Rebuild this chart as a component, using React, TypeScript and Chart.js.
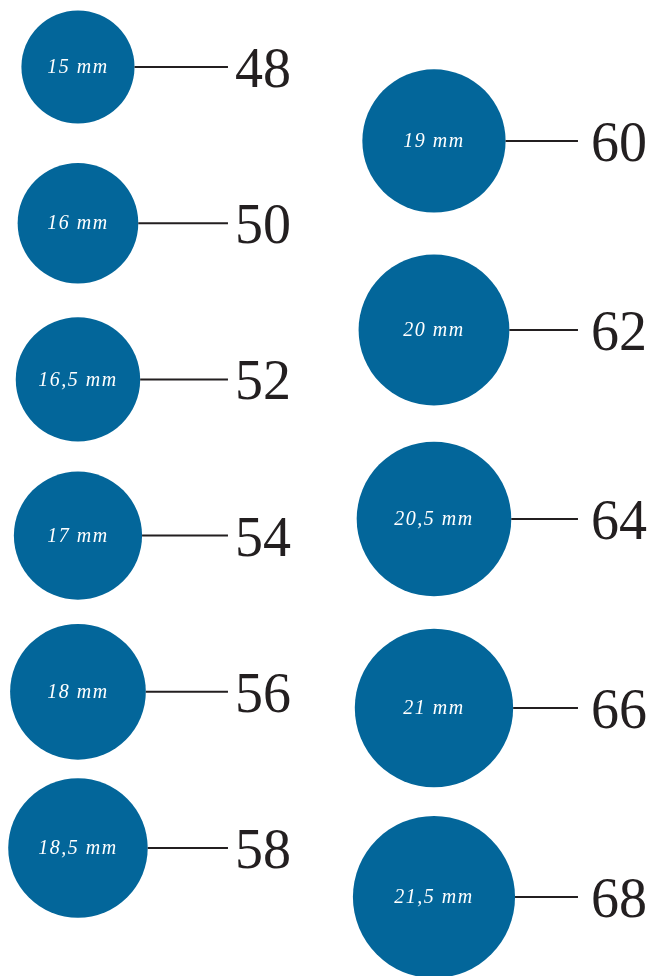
import React, { useEffect, useRef } from "react";
import { Chart, registerables } from "chart.js";

Chart.register(...registerables);

// Ring size chart data
const leftDiameters = [15, 16, 16.5, 17, 18, 18.5];
const leftSizes = [48, 50, 52, 54, 56, 58];
const rightDiameters = [19, 20, 20.5, 21, 21.5];
const rightSizes = [60, 62, 64, 66, 68];

const CIRCLE_COLOR = "#03669a";
const TEXT_COLOR = "#231f20";
const PX_PER_MM = 3.77;

const fmt = (d: number) => String(d).replace(".", ",") + " mm";

const leaderPlugin = {
  id: "leaders",
  afterDatasetsDraw(chart: any) {
    const ctx = chart.ctx;
    chart.data.datasets.forEach((ds: any, di: number) => {
      const meta = chart.getDatasetMeta(di);
      const reach = ds.reach as number;
      const gap = ds.gap as number;
      meta.data.forEach((el: any, i: number) => {
        const raw = ds.data[i];
        const { x, y } = el.getProps(["x", "y"], true);
        const r = raw.r;
        const end = x + reach;
        ctx.save();
        ctx.strokeStyle = TEXT_COLOR;
        ctx.lineWidth = 2;
        ctx.beginPath();
        ctx.moveTo(x + r, y);
        ctx.lineTo(end, y);
        ctx.stroke();
        ctx.fillStyle = TEXT_COLOR;
        ctx.font = "56px 'Liberation Serif'";
        ctx.textAlign = "left";
        ctx.textBaseline = "alphabetic";
        ctx.fillText(String(raw.size), end + gap, y + 20);
        ctx.fillStyle = "#ffffff";
        ctx.font = "italic 20px 'Liberation Serif'";
        (ctx as any).letterSpacing = "1.5px";
        ctx.textAlign = "center";
        ctx.textBaseline = "middle";
        ctx.fillText(fmt(raw.d), x, y + 1);
        ctx.restore();
      });
    });
  },
};

export default function App() {
  const ref = useRef<HTMLCanvasElement | null>(null);
  useEffect(() => {
    document.body.style.margin = "0";
    if (!ref.current) return;
    const mk = (ds: number[], sizes: number[], col: number) =>
      ds.map((d, i) => ({ x: col, y: sizes[i], r: d * PX_PER_MM, d, size: sizes[i] }));
    const chart = new Chart(ref.current, {
      type: "bubble",
      data: {
        datasets: [
          {
            data: mk(leftDiameters, leftSizes, 0),
            yAxisID: "y",
            backgroundColor: CIRCLE_COLOR,
            borderWidth: 0,
            hoverRadius: 0,
            clip: false,
            reach: 150,
            gap: 7,
          } as any,
          {
            data: mk(rightDiameters, rightSizes, 1),
            yAxisID: "y2",
            backgroundColor: CIRCLE_COLOR,
            borderWidth: 0,
            hoverRadius: 0,
            clip: false,
            reach: 144,
            gap: 13,
          } as any,
        ],
      },
      options: {
        animation: false,
        responsive: true,
        maintainAspectRatio: false,
        layout: { padding: 0, autoPadding: false } as any,
        events: [],
        plugins: { legend: { display: false }, tooltip: { enabled: false } },
        scales: {
          x: { type: "linear", display: false, min: -0.219, max: 1.6096 },
          y: { type: "linear", display: false, reverse: true, min: 47.142, max: 59.639 },
          y2: { type: "linear", display: false, reverse: true, min: 58.508, max: 68.836 },
        },
      },
      plugins: [leaderPlugin],
    });
    return () => chart.destroy();
  }, []);
  return (
    <div style={{ width: 651, height: 976, position: "relative" }}>
      <canvas ref={ref} />
    </div>
  );
}
